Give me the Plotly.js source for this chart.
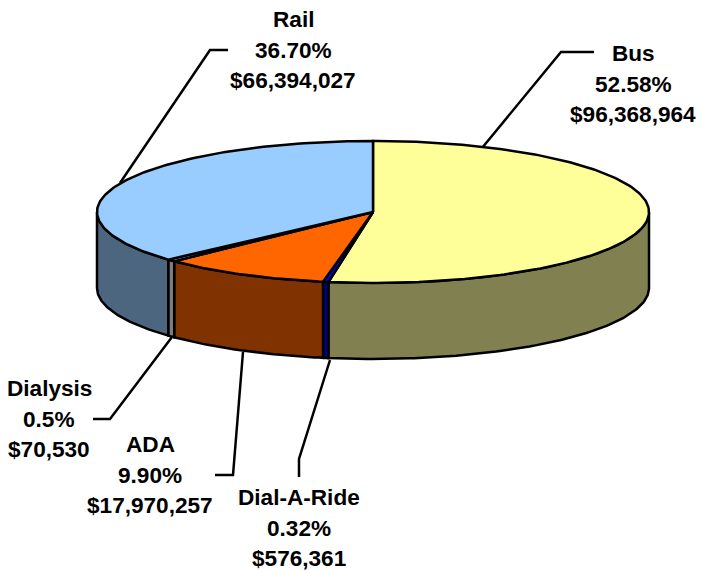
<!DOCTYPE html>
<html>
<head>
<meta charset="utf-8">
<script src="https://cdn.plot.ly/plotly-3.0.1.min.js"></script>
<style>html,body{margin:0;padding:0;background:#fff}#chart{width:701px;height:570px}</style>
</head>
<body>
<div id="chart"></div>
<script>
// Data, in clockwise order from 12 o'clock
var categories = ['Bus', 'Dial-A-Ride', 'ADA', 'Dialysis', 'Rail'];
var percents = [52.58, 0.32, 9.90, 0.5, 36.70];
var percentLabels = ['52.58%', '0.32%', '9.90%', '0.5%', '36.70%'];
var dollarLabels = ['$96,368,964', '$576,361', '$17,970,257', '$70,530', '$66,394,027'];

// Styles
var topColors = ['#FFFF99', '#0000FF', '#FF6600', '#FFFFFF', '#99CCFF'];
var sideColors = ['#808050', '#000080', '#803300', '#808080', '#4C6680'];

// Pie geometry in page pixels (axes are 1:1 with the page)
var cx = 373, cy = 212, rx = 276, ry = 71, depth = 76, strokeW = 2.5;

function px(t) { return cx + rx * Math.sin(t * 2 * Math.PI / 100); }
function py(t) { return cy - ry * Math.cos(t * 2 * Math.PI / 100); }
function arc(a, b) {
  var pts = [], n = Math.max(2, Math.ceil((b - a) / 0.25));
  for (var i = 0; i <= n; i++) pts.push(a + (b - a) * i / n);
  return pts;
}

var sideTraces = [], topTraces = [], start = 0;
percents.forEach(function (p, i) {
  var end = start + p;
  // top face
  var ts = arc(start, end);
  var xs = [cx].concat(ts.map(px), [cx]);
  var ys = [cy].concat(ts.map(py), [cy]);
  topTraces.push({
    type: 'scatter', mode: 'lines', x: xs, y: ys, fill: 'toself', fillcolor: topColors[i],
    line: { color: '#000', width: strokeW }, name: categories[i], hoverinfo: 'name', showlegend: false
  });
  // side wall: only the part on the front half (25..75 % of the turn)
  var a = Math.max(start, 25), b = Math.min(end, 75);
  if (b > a) {
    var ss = arc(a, b);
    var upperX = ss.map(px), upperY = ss.map(py);
    var lowerX = upperX.slice().reverse();
    var lowerY = upperY.slice().reverse().map(function (v) { return v + depth; });
    sideTraces.push({
      type: 'scatter', mode: 'lines',
      x: upperX.concat(lowerX, [upperX[0]]),
      y: upperY.concat(lowerY, [upperY[0]]),
      fill: 'toself', fillcolor: sideColors[i],
      line: { color: '#000', width: strokeW }, name: categories[i], hoverinfo: 'name', showlegend: false
    });
  }
  start = end;
});

var labelPos = [[633, 84], [299, 528], [150, 475], [49, 419], [293, 50]];
var lineStep = 30.7;
var annotations = [];
categories.forEach(function (c, i) {
  [c, percentLabels[i], dollarLabels[i]].forEach(function (txt, k) {
    annotations.push({
      x: labelPos[i][0], y: labelPos[i][1] + (k - 1) * lineStep, xref: 'x', yref: 'y', showarrow: false,
      xanchor: 'center', yanchor: 'middle', align: 'center', text: txt,
      font: { family: '"Liberation Sans", Arial, sans-serif', size: 22.6, color: '#000', weight: 700 }
    });
  });
});

var leaders = [
  'M482,148 L561,52 L594,52',
  'M330,360 L299,459 L299,477',
  'M243,352 L233,475 L215,475',
  'M172,337 L110,419 L93,419',
  'M120,183 L210,50 L228,50'
];
var shapes = leaders.map(function (d) {
  return { type: 'path', xref: 'x', yref: 'y', path: d, line: { color: '#000', width: strokeW }, layer: 'below' };
});

Plotly.newPlot('chart', sideTraces.concat(topTraces), {
  width: 701, height: 570,
  margin: { l: 0, r: 0, t: 0, b: 0 },
  paper_bgcolor: '#fff', plot_bgcolor: '#fff',
  xaxis: { range: [0, 701], visible: false, fixedrange: true },
  yaxis: { range: [570, 0], visible: false, fixedrange: true },
  showlegend: false, annotations: annotations, shapes: shapes
}, { displayModeBar: false, staticPlot: true });
</script>
</body>
</html>
